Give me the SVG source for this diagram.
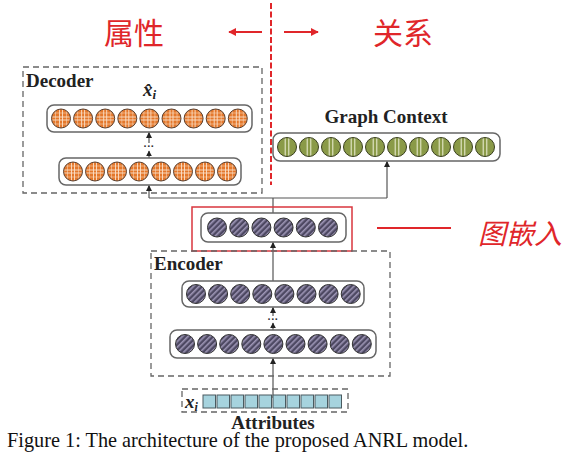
<svg xmlns="http://www.w3.org/2000/svg" xmlns:xlink="http://www.w3.org/1999/xlink" width="573" height="458" viewBox="0 0 573 458">
<style>
.lbl{font-family:"Liberation Serif","Times New Roman",serif;font-weight:bold;font-size:19px;fill:#222}
.cap{font-family:"Liberation Serif","Times New Roman",serif;font-size:20.3px;fill:#111}
.zh{font-family:"Noto Sans CJK SC",sans-serif;fill:#e0262a}
.cont{fill:#fff;stroke:#666;stroke-width:1.5}
.dash{fill:none;stroke:#666;stroke-width:1.3;stroke-dasharray:6 4}
.conn{fill:none;stroke:#555;stroke-width:1.2}
.sq{fill:#a6d3de;stroke:#4a5a60;stroke-width:1}
.dots{font-family:"Liberation Sans",sans-serif;font-size:11px;font-weight:bold;fill:#333}
</style>
<defs>
<marker id="ah" viewBox="0 0 10 10" refX="9" refY="5" markerWidth="5" markerHeight="5" orient="auto-start-reverse">
<path d="M0,0 L10,5 L0,10 z" fill="#222"/>
</marker>
<marker id="rh" viewBox="0 0 10 10" refX="9" refY="5" markerWidth="4" markerHeight="4" orient="auto">
<path d="M0,0 L10,5 L0,10 z" fill="#e0262a"/>
</marker>
<pattern id="diag" width="4" height="4" patternUnits="userSpaceOnUse" patternTransform="rotate(45)">
<rect width="4" height="4" fill="#4d4862"/>
<rect width="1.6" height="4" fill="#9d95b5"/>
</pattern>
<clipPath id="cc"><circle r="9.5"/></clipPath>
<g id="oc">
<circle r="9.5" fill="#e4782c"/>
<g clip-path="url(#cc)" stroke="#fbe0c8" stroke-width="0.9">
<line x1="-1.5" y1="-10" x2="-1.5" y2="10"/><line x1="1.5" y1="-10" x2="1.5" y2="10"/>
<line x1="-10" y1="-1.5" x2="10" y2="-1.5"/><line x1="-10" y1="1.5" x2="10" y2="1.5"/>
<line x1="-5.5" y1="-10" x2="-5.5" y2="10" stroke-width="0.5"/><line x1="5.5" y1="-10" x2="5.5" y2="10" stroke-width="0.5"/>
<line x1="-10" y1="-5.5" x2="10" y2="-5.5" stroke-width="0.5"/><line x1="-10" y1="5.5" x2="10" y2="5.5" stroke-width="0.5"/>
</g>
<circle r="9.5" fill="none" stroke="#5a4030" stroke-width="1"/>
</g>
<g id="gc">
<circle r="9.5" fill="#8a9a48"/>
<g clip-path="url(#cc)" stroke="#eef0d8" stroke-width="1">
<line x1="-1.8" y1="-10" x2="-1.8" y2="10"/><line x1="1.8" y1="-10" x2="1.8" y2="10"/>
</g>
<circle r="9.5" fill="none" stroke="#3a4020" stroke-width="1"/>
</g>
<g id="pc">
<circle r="9.5" fill="url(#diag)" stroke="#333" stroke-width="1"/>
</g>
</defs>

<!-- top annotations -->
<g id="divider">
<line x1="271" y1="3" x2="271" y2="185" stroke="#e0262a" stroke-width="2" stroke-dasharray="6 2.5"/>
<line x1="262" y1="32" x2="229" y2="32" stroke="#e0262a" stroke-width="2" marker-end="url(#rh)"/>
<line x1="284" y1="32" x2="318" y2="32" stroke="#e0262a" stroke-width="2" marker-end="url(#rh)"/>
<text class="zh" x="134" y="44" font-size="30" text-anchor="middle">属性</text>
<text class="zh" x="403" y="44" font-size="30" text-anchor="middle">关系</text>
</g>

<g id="connectors">
<polyline class="conn" points="273,213 273,198"/>
<polyline class="conn" points="149,198 387,198"/>
<line class="conn" x1="149" y1="198" x2="149" y2="185.5" marker-end="url(#ah)"/>
<line class="conn" x1="387" y1="198" x2="387" y2="161.5" marker-end="url(#ah)"/>
<line class="conn" x1="149" y1="158" x2="149" y2="151" marker-end="url(#ah)"/>
<line class="conn" x1="149" y1="143" x2="149" y2="132.5" marker-end="url(#ah)"/>
<line class="conn" x1="273" y1="251" x2="273" y2="242.5" marker-end="url(#ah)"/>
<line class="conn" x1="273" y1="281" x2="273" y2="251"/>
<line class="conn" x1="273" y1="330" x2="273" y2="323" marker-end="url(#ah)"/>
<line class="conn" x1="273" y1="316" x2="273" y2="307.5" marker-end="url(#ah)"/>
<line class="conn" x1="273" y1="398" x2="273" y2="358.5" marker-end="url(#ah)"/>
</g>

<g id="decoder">
<rect class="dash" x="23" y="67" width="239" height="126"/>
<text class="lbl" x="26" y="87">Decoder</text>
<text class="lbl" x="143" y="96" font-style="italic">x̂<tspan font-size="13" dy="3">i</tspan></text>
<text class="dots" x="149" y="150" text-anchor="middle">···</text>
</g>
<g id="decoder-out">
<rect class="cont" x="47" y="105" width="205" height="27" rx="7"/>
<use xlink:href="#oc" x="61" y="118.5"/><use xlink:href="#oc" x="83.1" y="118.5"/><use xlink:href="#oc" x="105.2" y="118.5"/>
<use xlink:href="#oc" x="127.3" y="118.5"/><use xlink:href="#oc" x="149.4" y="118.5"/><use xlink:href="#oc" x="171.5" y="118.5"/>
<use xlink:href="#oc" x="193.6" y="118.5"/><use xlink:href="#oc" x="215.7" y="118.5"/><use xlink:href="#oc" x="237.8" y="118.5"/>
</g>
<g id="decoder-hidden">
<rect class="cont" x="59" y="158" width="182" height="27" rx="7"/>
<use xlink:href="#oc" x="73" y="171.5"/><use xlink:href="#oc" x="95" y="171.5"/><use xlink:href="#oc" x="117" y="171.5"/>
<use xlink:href="#oc" x="139" y="171.5"/><use xlink:href="#oc" x="161" y="171.5"/><use xlink:href="#oc" x="183" y="171.5"/>
<use xlink:href="#oc" x="205" y="171.5"/><use xlink:href="#oc" x="227" y="171.5"/>
</g>

<g id="graph-context">
<text class="lbl" x="386" y="123" text-anchor="middle">Graph Context</text>
<rect class="cont" x="273" y="133" width="227" height="28" rx="7"/>
<use xlink:href="#gc" x="287" y="147"/><use xlink:href="#gc" x="309" y="147"/><use xlink:href="#gc" x="331" y="147"/>
<use xlink:href="#gc" x="353" y="147"/><use xlink:href="#gc" x="375" y="147"/><use xlink:href="#gc" x="397" y="147"/>
<use xlink:href="#gc" x="419" y="147"/><use xlink:href="#gc" x="441" y="147"/><use xlink:href="#gc" x="463" y="147"/>
<use xlink:href="#gc" x="485" y="147"/>
</g>

<g id="embedding">
<rect x="192" y="207" width="160" height="44" fill="none" stroke="#d9363e" stroke-width="1.5"/>
<rect class="cont" x="201" y="213" width="145" height="29" rx="7"/>
<use xlink:href="#pc" x="217" y="227.5"/><use xlink:href="#pc" x="239.2" y="227.5"/><use xlink:href="#pc" x="261.4" y="227.5"/>
<use xlink:href="#pc" x="283.6" y="227.5"/><use xlink:href="#pc" x="305.8" y="227.5"/><use xlink:href="#pc" x="328" y="227.5"/>
<line x1="377" y1="228" x2="451" y2="228" stroke="#e0262a" stroke-width="2.2"/>
<text class="zh" x="520" y="244" font-size="28" font-style="italic" text-anchor="middle">图嵌入</text>
</g>

<g id="encoder">
<rect class="dash" x="151" y="251" width="239" height="125"/>
<text class="lbl" x="154" y="270">Encoder</text>
<text class="dots" x="273" y="323" text-anchor="middle">···</text>
</g>
<g id="encoder-top">
<rect class="cont" x="182" y="281" width="182" height="26" rx="7"/>
<use xlink:href="#pc" x="196" y="294"/><use xlink:href="#pc" x="218.1" y="294"/><use xlink:href="#pc" x="240.2" y="294"/>
<use xlink:href="#pc" x="262.3" y="294"/><use xlink:href="#pc" x="284.4" y="294"/><use xlink:href="#pc" x="306.5" y="294"/>
<use xlink:href="#pc" x="328.6" y="294"/><use xlink:href="#pc" x="350.7" y="294"/>
</g>
<g id="encoder-bottom">
<rect class="cont" x="170" y="330" width="206" height="28" rx="7"/>
<use xlink:href="#pc" x="185" y="344"/><use xlink:href="#pc" x="207.1" y="344"/><use xlink:href="#pc" x="229.2" y="344"/>
<use xlink:href="#pc" x="251.3" y="344"/><use xlink:href="#pc" x="273.4" y="344"/><use xlink:href="#pc" x="295.5" y="344"/>
<use xlink:href="#pc" x="317.6" y="344"/><use xlink:href="#pc" x="339.7" y="344"/><use xlink:href="#pc" x="361.8" y="344"/>
</g>

<g id="attributes">
<rect class="dash" x="182" y="389" width="166" height="23" stroke-dasharray="4 2"/>
<text class="lbl" x="185" y="408" font-style="italic">x<tspan font-size="12" dy="3">i</tspan></text>
<rect class="sq" x="203" y="395" width="12.5" height="13"/><rect class="sq" x="217" y="395" width="12.5" height="13"/>
<rect class="sq" x="231" y="395" width="12.5" height="13"/><rect class="sq" x="245" y="395" width="12.5" height="13"/>
<rect class="sq" x="259" y="395" width="12.5" height="13"/><rect class="sq" x="273" y="395" width="12.5" height="13"/>
<rect class="sq" x="287" y="395" width="12.5" height="13"/><rect class="sq" x="301" y="395" width="12.5" height="13"/>
<rect class="sq" x="315" y="395" width="12.5" height="13"/><rect class="sq" x="329" y="395" width="12.5" height="13"/>
<text class="lbl" x="273" y="429" text-anchor="middle" font-size="18.5">Attributes</text>
</g>

<text class="cap" x="7" y="447">Figure 1: The architecture of the proposed ANRL model.</text>
</svg>
